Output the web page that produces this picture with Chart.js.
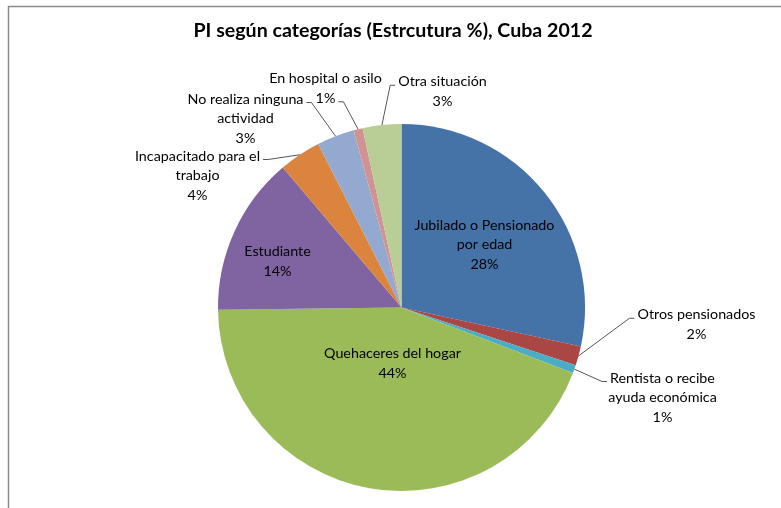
<!DOCTYPE html>
<html>
<head>
<meta charset="utf-8">
<script src="https://cdn.jsdelivr.net/npm/chart.js@4.4.1/dist/chart.umd.min.js"></script>
<style>
  html, body { margin: 0; padding: 0; background: #fff; }
  #wrap { width: 781px; height: 508px; position: relative; }
</style>
</head>
<body>
<div id="wrap"><canvas id="myChart"></canvas></div>
<script>
// values (percent of PI)
var categories = [
  'Jubilado o Pensionado por edad',
  'Otros pensionados',
  'Rentista o recibe ayuda económica',
  'Quehaceres del hogar',
  'Estudiante',
  'Incapacitado para el trabajo',
  'No realiza ninguna actividad',
  'En hospital o asilo',
  'Otra situación'
];
var shares = [28.4, 1.7, 0.7, 44.0, 14.0, 3.7, 3.3, 0.8, 3.4];
var labelLines = [
  ['Jubilado o Pensionado', 'por edad'],
  ['Otros pensionados'],
  ['Rentista o recibe', 'ayuda económica'],
  ['Quehaceres del hogar'],
  ['Estudiante'],
  ['Incapacitado para el', 'trabajo'],
  ['No realiza ninguna', 'actividad'],
  ['En hospital o asilo'],
  ['Otra situación']
];
var colors = ['#4572A7', '#AA4643', '#4BACC6', '#9BBB59', '#8064A2',
              '#DB843D', '#93A9CF', '#D19392', '#B9CD96'];
var chartTitle = 'PI según categorías (Estrcutura %), Cuba 2012';

// where each label sits, relative to the pie centre; side = where the leader line leaves
var labelLayout = [
  {dx: 83, dy: -63},
  {dx: 295, dy: 17, side: -1, line: 0},
  {dx: 261, dy: 90, side: -1, line: 0},
  {dx: -9, dy: 56},
  {dx: -124, dy: -46},
  {dx: -204, dy: -132, side: 1, line: 0},
  {dx: -156, dy: -189, side: 1, line: 0},
  {dx: -76, dy: -219, side: 1, line: 1},
  {dx: 41, dy: -216, side: -1, line: 0}
];

var FONT = 'Lato, "Liberation Sans", sans-serif';

var pieLabels = {
  id: 'pieLabels',
  beforeDraw: function(chart) {
    var ctx = chart.ctx;
    ctx.save();
    ctx.strokeStyle = '#8a8a8a';
    ctx.lineWidth = 1.5;
    ctx.beginPath();
    ctx.moveTo(8.5, 508);
    ctx.lineTo(8.5, 6.5);
    ctx.lineTo(781, 6.5);
    ctx.stroke();
    ctx.restore();
  },
  afterDraw: function(chart) {
    var ctx = chart.ctx;
    var total = shares.reduce(function(a, b) { return a + b; }, 0);
    ctx.save();
    ctx.fillStyle = '#000';
    ctx.font = 'bold 19.6px ' + FONT;
    ctx.textAlign = 'center';
    ctx.textBaseline = 'middle';
    ctx.fillText(chartTitle, 393, 31);

    ctx.font = '14.3px ' + FONT;
    var lh = 19.5;
    var meta = chart.getDatasetMeta(0);
    meta.data.forEach(function(arc, i) {
      var p = arc.getProps(['x', 'y', 'startAngle', 'endAngle', 'outerRadius'], true);
      var mid = (p.startAngle + p.endAngle) / 2;
      var lay = labelLayout[i];
      var lines = labelLines[i].concat([Math.round(shares[i] / total * 100) + '%']);
      var cx = p.x + lay.dx, cy = p.y + lay.dy;
      var top = cy - (lines.length - 1) * lh / 2;
      ctx.fillStyle = '#000';
      lines.forEach(function(t, k) { ctx.fillText(t, cx, top + k * lh); });
      if (lay.side) {
        var k = lay.line;
        var w = ctx.measureText(lines[k]).width;
        var ly = top + k * lh + 3.5;
        var x0 = cx + lay.side * (w / 2 + 3);
        var x1 = x0 + lay.side * 5;
        ctx.strokeStyle = '#555';
        ctx.lineWidth = 1;
        ctx.beginPath();
        ctx.moveTo(x0, ly);
        ctx.lineTo(x1, ly);
        ctx.lineTo(p.x + Math.cos(mid) * p.outerRadius, p.y + Math.sin(mid) * p.outerRadius);
        ctx.stroke();
      }
    });
    ctx.restore();
  }
};

var ctx = document.getElementById('myChart');
var myPie = new Chart(ctx, {
  type: 'pie',
  data: {
    labels: categories,
    datasets: [{
      data: shares,
      backgroundColor: colors,
      borderWidth: 0
    }]
  },
  options: {
    responsive: true,
    maintainAspectRatio: false,
    animation: false,
    layout: { padding: { left: 218, top: 123.5, right: 196, bottom: 16.5 } },
    plugins: {
      legend: { display: false },
      title: { display: false },
      tooltip: { enabled: false }
    }
  },
  plugins: [pieLabels]
});
</script>
</body>
</html>
